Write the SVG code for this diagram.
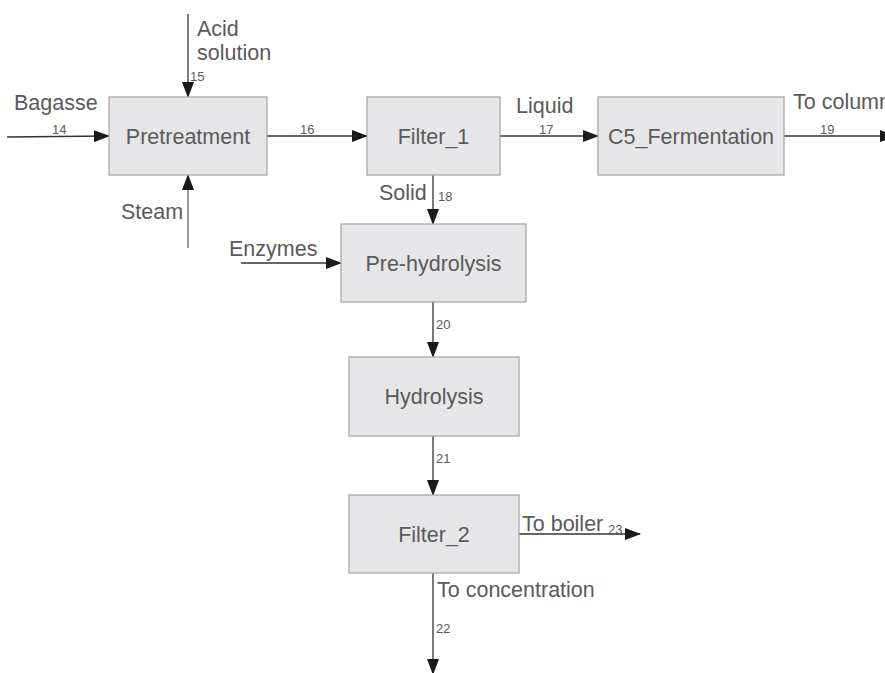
<svg xmlns="http://www.w3.org/2000/svg" width="885" height="673" viewBox="0 0 885 673">
<defs>
<style>
.box{fill:#e6e6e8;stroke:#a9a9a9;stroke-width:1.3}
.lbl{font-family:"Liberation Sans",Arial,sans-serif;font-size:21.5px;fill:#5a5a5a}
.mid{text-anchor:middle}
.num{font-family:"Liberation Sans",Arial,sans-serif;font-size:13px;fill:#5a5a5a}
.ln{stroke:#333;stroke-width:1.3;fill:none;marker-end:url(#arr)}
</style>
<marker id="arr" markerUnits="userSpaceOnUse" markerWidth="16" markerHeight="12" refX="15" refY="6" orient="auto">
<path d="M0,0 L16,6 L0,12 Z" fill="#1a1a1a"/>
</marker>
</defs>
<rect width="885" height="673" fill="#fff"/>
<g id="connectors">
<line class="ln" x1="7" y1="137" x2="109" y2="136"/>
<line class="ln" x1="188" y1="14" x2="188" y2="97"/>
<line class="ln" x1="188" y1="248" x2="188" y2="175" style="stroke:#666"/>
<line class="ln" x1="267" y1="136" x2="367" y2="136"/>
<line class="ln" x1="500" y1="136" x2="598" y2="136"/>
<line class="ln" x1="784" y1="136" x2="895" y2="136"/>
<line class="ln" x1="433" y1="175" x2="433" y2="224"/>
<line class="ln" x1="241" y1="263" x2="341" y2="263"/>
<line class="ln" x1="433" y1="302" x2="433" y2="357"/>
<line class="ln" x1="433" y1="436" x2="433" y2="495"/>
<line class="ln" x1="519" y1="534" x2="640" y2="534"/>
<line class="ln" x1="433" y1="573" x2="433" y2="674"/>
<text class="lbl" x="197" y="36">Acid</text>
<text class="lbl" x="197" y="60">solution</text>
<text class="num" x="190" y="81">15</text>
<text class="lbl" x="14" y="110">Bagasse</text>
<text class="num" x="52" y="134">14</text>
<text class="lbl" x="121" y="219">Steam</text>
<text class="num" x="300" y="134">16</text>
<text class="lbl" x="516" y="113">Liquid</text>
<text class="num" x="539" y="134">17</text>
<text class="lbl" x="793" y="109">To column</text>
<text class="num" x="820" y="134">19</text>
<text class="lbl" x="379" y="200">Solid</text>
<text class="num" x="438" y="201">18</text>
<text class="lbl" x="229" y="256">Enzymes</text>
<text class="num" x="436" y="329">20</text>
<text class="num" x="436" y="463">21</text>
<text class="lbl" x="522" y="531">To boiler</text>
<text class="num" x="608" y="534">23</text>
<text class="lbl" x="437" y="597">To concentration</text>
<text class="num" x="436" y="633">22</text>
</g>
<g id="pretreatment"><rect class="box" x="109" y="97" width="158" height="78"/><text class="lbl mid" x="188" y="144">Pretreatment</text></g>
<g id="filter1"><rect class="box" x="367" y="97" width="133" height="78"/><text class="lbl mid" x="433.5" y="144">Filter_1</text></g>
<g id="c5fermentation"><rect class="box" x="598" y="97" width="186" height="78"/><text class="lbl mid" x="691" y="144">C5_Fermentation</text></g>
<g id="prehydrolysis"><rect class="box" x="341" y="224" width="185" height="78"/><text class="lbl mid" x="433.5" y="271">Pre-hydrolysis</text></g>
<g id="hydrolysis"><rect class="box" x="349" y="357" width="170" height="79"/><text class="lbl mid" x="434" y="404">Hydrolysis</text></g>
<g id="filter2"><rect class="box" x="349" y="495" width="170" height="78"/><text class="lbl mid" x="434" y="542">Filter_2</text></g>
</svg>
